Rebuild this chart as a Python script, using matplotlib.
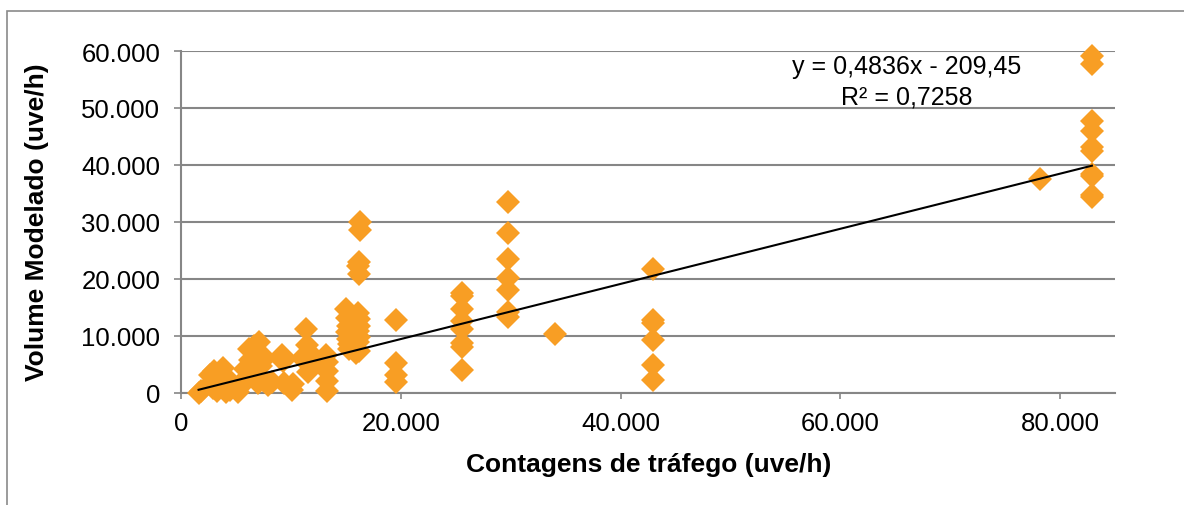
import matplotlib
matplotlib.use("Agg")
import matplotlib.pyplot as plt
from matplotlib.ticker import FuncFormatter, MultipleLocator
from matplotlib.patches import Rectangle
import numpy as np

plt.rcParams['font.family'] = ['Liberation Sans', 'DejaVu Sans']

# Observed counts (x) vs modelled volumes (y), uve/h
contagens = [
    1600, 1800, 2600, 2700, 2900, 3000, 3100, 3300, 3800, 3900, 4000, 4100,
    4300, 4500, 5200, 5600, 5800, 6000, 6200, 6300, 6500, 6600, 6800, 7000,
    7100, 7300, 7500, 7600, 7900, 8300, 9200, 9300, 9400, 10100, 10200, 11000,
    11400, 11500, 11600, 11800, 12000, 13200, 13300, 13300, 13300, 13300,
    15000, 15100, 15100, 15200, 15200, 15300, 15300, 15500, 16100, 16200,
    16200, 16100, 16200, 16100, 16200, 15900, 16300, 16300, 16200, 16100, 16200,
    19600, 19600, 19600, 19600,
    25600, 25600, 25600, 25600, 25600, 25600, 25600, 25600,
    29800, 29800, 29800, 29800, 29800, 29800, 29800,
    34000,
    43000, 43000, 43000, 43000, 43000, 43000,
    78200,
    82900, 82900, 82900, 82900, 82900, 82900, 82900, 82900, 82900, 82900,
]
modelado = [
    0, 300, 3200, 1800, 800, 3900, 2500, 300, 4300, 1200, 3000, 200,
    2200, 600, 100, 1500, 4200, 2800, 7800, 5800, 3500, 8300, 6600, 1700,
    8900, 4700, 2300, 6200, 1400, 2000, 6600, 5600, 1700, 600, 1500, 6200,
    11300, 8500, 3700, 6800, 4800, 6700, 5400, 3900, 2100, 300,
    14800, 13200, 10700, 11700, 9500, 8600, 7800, 10200, 14100, 13000,
    11800, 10900, 9800, 8900, 7400, 7000, 30000, 28600, 23000, 22300, 20800,
    12800, 5200, 3100, 1900,
    17600, 17000, 14700, 12700, 11300, 8700, 8000, 4000,
    33500, 28000, 23500, 20200, 18000, 14200, 13300,
    10400,
    21700, 12800, 12300, 9300, 5000, 2200,
    37600,
    59100, 57800, 47700, 45900, 43100, 42400, 38500, 38100, 34800, 34300,
]

# Linear trend as reported on the chart
slope = 0.4836
intercept = -209.45
r2 = 0.7258

W, H = 1184, 506
fig = plt.figure(figsize=(W / 100, H / 100), dpi=100)
ax = fig.add_axes([181 / W, 1 - 394 / H, (1115 - 181) / W, (394 - 52) / H])

grid_c = '#868686'
ax.set_xlim(0, 85000)
ax.set_ylim(0, 60000)
ax.yaxis.set_major_locator(MultipleLocator(10000))
ax.xaxis.set_major_locator(MultipleLocator(20000))
ax.grid(axis='y', color=grid_c, linewidth=1.5, zorder=0)
ax.set_axisbelow(True)

for s in ('top', 'right'):
    ax.spines[s].set_visible(False)
for s in ('left', 'bottom'):
    ax.spines[s].set_color(grid_c)
    ax.spines[s].set_linewidth(1.5)

fmt = FuncFormatter(lambda v, p: f"{int(v):,}".replace(",", "."))
ax.xaxis.set_major_formatter(fmt)
ax.yaxis.set_major_formatter(fmt)
ax.tick_params(axis='both', colors=grid_c, labelcolor='black', labelsize=18.5,
               width=1.2)
ax.tick_params(axis='x', length=4, pad=9)
ax.tick_params(axis='y', length=5, pad=10)

ax.plot(contagens, modelado, linestyle='none', marker='D', markersize=12.5,
        color='#F89E24', markeredgewidth=0, zorder=3, clip_on=False)

xl = np.array([min(contagens), max(contagens)])
ax.plot(xl, slope * xl + intercept, color='black', linewidth=1.5, zorder=4)

fig.text(907 / W, 1 - 67 / H, f"y = {slope:.4f}x - {abs(intercept):.2f}".replace(".", ","),
         fontsize=18, ha='center', va='center')
fig.text(907 / W, 1 - 97 / H, f"R² = {r2:.4f}".replace(".", ","),
         fontsize=18, ha='center', va='center')

fig.text(649 / W, 1 - 465 / H, "Contagens de tráfego (uve/h)", fontsize=19,
         fontweight='bold', ha='center', va='center')
fig.text(37 / W, 1 - 222 / H, "Volume Modelado (uve/h)", fontsize=19,
         fontweight='bold', ha='center', va='center', rotation=90)

# Outer chart frame
fig.patches.append(Rectangle((7 / W, -0.2), 1.5, 1.2 - 12 / H,
                             transform=fig.transFigure, fill=False,
                             edgecolor='#8a8a8a', linewidth=1.2))

fig.savefig("out.png", dpi=100)
